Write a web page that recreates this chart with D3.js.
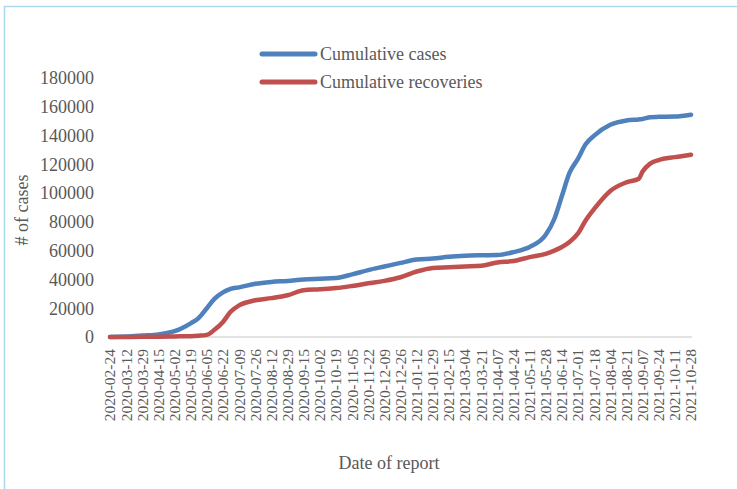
<!DOCTYPE html>
<html>
<head>
    <meta charset="utf-8">
    <title>Cumulative cases and recoveries</title>
    <script src="https://cdnjs.cloudflare.com/ajax/libs/d3/7.8.5/d3.min.js"></script>
    <style>
        body {
            margin: 0;
            background: #ffffff;
        }
        svg text {
            font-family: "Liberation Serif", "Times New Roman", serif;
            fill: #595959;
        }
    </style>
</head>
<body>
    <svg id="chart" width="737" height="489"></svg>

    <script>
        // Datos
        const dates = [
            "2020-02-24", "2020-03-12", "2020-03-29", "2020-04-15", "2020-05-02",
            "2020-05-19", "2020-05-27", "2020-06-05", "2020-06-13", "2020-06-22",
            "2020-06-30", "2020-07-09", "2020-07-26", "2020-08-12", "2020-08-29",
            "2020-09-15", "2020-10-02", "2020-10-19", "2020-11-05", "2020-11-22",
            "2020-12-09", "2020-12-26", "2021-01-12", "2021-01-29", "2021-02-15",
            "2021-03-04", "2021-03-21", "2021-04-07", "2021-04-24", "2021-05-11",
            "2021-05-28", "2021-06-06", "2021-06-14", "2021-06-22", "2021-07-01",
            "2021-07-09", "2021-07-18", "2021-08-04", "2021-08-21", "2021-09-03",
            "2021-09-07", "2021-09-15", "2021-09-24", "2021-10-11", "2021-10-28"
        ];

        const cases = [
            0, 300, 1000, 1800, 4000,
            9500, 13000, 20000, 26500, 31000,
            33500, 34500, 37000, 38300, 39000,
            40000, 40500, 41000, 43500, 46500,
            49000, 51500, 53800, 54500, 55800,
            56500, 56800, 57000, 59000, 62500,
            71000, 82000, 98000, 114000, 124000,
            134000, 140000, 147500, 150500, 151200,
            151500, 152800, 153000, 153200, 154500
        ];

        const recoveries = [
            0, 0, 100, 200, 400,
            600, 900, 1500, 5000, 10500,
            17500, 22000, 25500, 27000, 29000,
            32500, 33200, 34000, 35500, 37300,
            39000, 41500, 45500, 48000, 48500,
            49000, 49500, 51800, 52800, 55500,
            57800, 60000, 62500, 66000, 72000,
            81000, 89000, 101500, 107500, 110000,
            115000, 120500, 123000, 125000, 126700
        ];

        const tickLabels = [
            "2020-02-24", "2020-03-12", "2020-03-29", "2020-04-15", "2020-05-02",
            "2020-05-19", "2020-06-05", "2020-06-22", "2020-07-09", "2020-07-26",
            "2020-08-12", "2020-08-29", "2020-09-15", "2020-10-02", "2020-10-19",
            "2020-11-05", "2020-11-22", "2020-12-09", "2020-12-26", "2021-01-12",
            "2021-01-29", "2021-02-15", "2021-03-04", "2021-03-21", "2021-04-07",
            "2021-04-24", "2021-05-11", "2021-05-28", "2021-06-14", "2021-07-01",
            "2021-07-18", "2021-08-04", "2021-08-21", "2021-09-07", "2021-09-24",
            "2021-10-11", "2021-10-28"
        ];

        const yTicks = [0, 20000, 40000, 60000, 80000, 100000, 120000, 140000, 160000, 180000];

        const seriesNames = ["Cumulative cases", "Cumulative recoveries"];
        const seriesColors = ["#4f81bd", "#c0504d"];

        const parseDate = d3.utcParse("%Y-%m-%d");
        const svg = d3.select("#chart");

        // Marco exterior
        svg.append("rect")
            .attr("x", 4.5)
            .attr("y", 6.5)
            .attr("width", 745)
            .attr("height", 495)
            .attr("fill", "none")
            .attr("stroke", "#a9d9eb")
            .attr("stroke-width", 1.5);

        // Escalas
        const x = d3.scaleUtc()
            .domain([parseDate(tickLabels[0]), parseDate(tickLabels[tickLabels.length - 1])])
            .range([110, 691]);

        const y = d3.scaleLinear()
            .domain([0, 180000])
            .range([337, 78]);

        // Etiquetas eje Y
        svg.append("g")
            .selectAll("text")
            .data(yTicks)
            .join("text")
            .attr("x", 94)
            .attr("y", d => y(d))
            .attr("dy", "0.35em")
            .attr("text-anchor", "end")
            .style("font-size", "18px")
            .text(d => d);

        // Línea del eje X
        svg.append("line")
            .attr("x1", 108)
            .attr("x2", 692)
            .attr("y1", y(0))
            .attr("y2", y(0))
            .attr("stroke", "#d9d9d9")
            .attr("stroke-width", 1.5);

        // Etiquetas eje X
        svg.append("g")
            .selectAll("text")
            .data(tickLabels)
            .join("text")
            .attr("transform", d => `translate(${x(parseDate(d))},349) rotate(-90)`)
            .attr("dy", "0.35em")
            .attr("text-anchor", "end")
            .style("font-size", "15.5px")
            .text(d => d);

        // Series
        const rows = dates.map((d, i) => ({date: parseDate(d), values: [cases[i], recoveries[i]]}));

        seriesNames.forEach((name, k) => {
            const line = d3.line()
                .x(d => x(d.date))
                .y(d => y(d.values[k]))
                .curve(d3.curveMonotoneX);

            svg.append("path")
                .datum(rows)
                .attr("fill", "none")
                .attr("stroke", seriesColors[k])
                .attr("stroke-width", 4.5)
                .attr("stroke-linecap", "round")
                .attr("stroke-linejoin", "round")
                .attr("d", line);
        });

        // Leyenda
        const legend = svg.append("g");
        seriesNames.forEach((name, k) => {
            const ly = 54 + k * 28;
            legend.append("line")
                .attr("x1", 262)
                .attr("x2", 315)
                .attr("y1", ly)
                .attr("y2", ly)
                .attr("stroke", seriesColors[k])
                .attr("stroke-width", 5)
                .attr("stroke-linecap", "round");
            legend.append("text")
                .attr("x", 320)
                .attr("y", ly)
                .attr("dy", "0.35em")
                .style("font-size", "18px")
                .text(name);
        });

        // Títulos de ejes
        svg.append("text")
            .attr("transform", "translate(28,210) rotate(-90)")
            .attr("text-anchor", "middle")
            .style("font-size", "18px")
            .text("# of cases");

        svg.append("text")
            .attr("x", 389)
            .attr("y", 469)
            .attr("text-anchor", "middle")
            .style("font-size", "18px")
            .text("Date of report");
    </script>
</body>
</html>
